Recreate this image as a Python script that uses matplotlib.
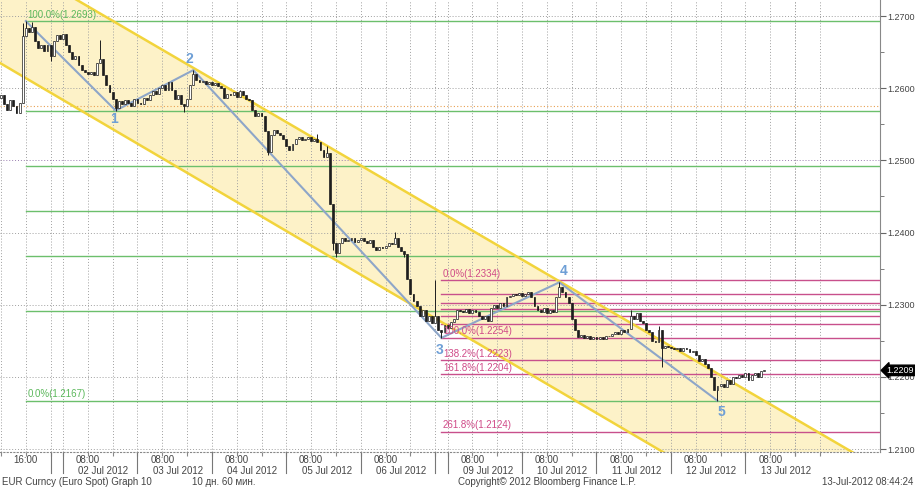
import numpy as np
import matplotlib
matplotlib.use('Agg')
import matplotlib.pyplot as plt
import matplotlib.transforms as mtransforms

plt.rcParams['font.family'] = ['Liberation Sans', 'DejaVu Sans']

# hourly closes, EUR/USD, 29 Jun 08:00 -> 13 Jul 08:00 (trading hours only)
first_open = 1.2586
closes = [
    1.2590, 1.2578, 1.2570, 1.2584, 1.2576, 1.2566, 1.2580, 1.2672,
    1.2683, 1.2678, 1.2685, 1.2665, 1.2655, 1.2660, 1.2652, 1.2660,
    1.2645, 1.2665, 1.2674, 1.2668, 1.2675, 1.2660, 1.2650, 1.2640,
    1.2645, 1.2632, 1.2625, 1.2622, 1.2620, 1.2623, 1.2618, 1.2635,
    1.2640, 1.2618, 1.2605, 1.2595, 1.2585, 1.2572, 1.2582, 1.2578,
    1.2584, 1.2580, 1.2576, 1.2585, 1.2580, 1.2578, 1.2586, 1.2583,
    1.2590, 1.2596, 1.2592, 1.2600, 1.2604, 1.2598, 1.2608, 1.2598,
    1.2585, 1.2590, 1.2578, 1.2575, 1.2585, 1.2605, 1.2620, 1.2612,
    1.2608, 1.2610, 1.2606, 1.2609, 1.2605, 1.2607, 1.2603, 1.2600,
    1.2586, 1.2592, 1.2590, 1.2595, 1.2588, 1.2596, 1.2590, 1.2585,
    1.2583, 1.2570, 1.2562, 1.2566, 1.2562, 1.2540, 1.2512, 1.2535,
    1.2542, 1.2538, 1.2535, 1.2530, 1.2520, 1.2515, 1.2522, 1.2530,
    1.2533, 1.2528, 1.2530, 1.2532, 1.2527, 1.2530, 1.2525, 1.2515,
    1.2505, 1.2510, 1.2440, 1.2385, 1.2372, 1.2385, 1.2392, 1.2388,
    1.2390, 1.2393, 1.2387, 1.2390, 1.2392, 1.2388, 1.2386, 1.2390,
    1.2380, 1.2376, 1.2380, 1.2378, 1.2382, 1.2385, 1.2384, 1.2392,
    1.2380, 1.2375, 1.2370, 1.2335, 1.2315, 1.2305, 1.2298, 1.2285,
    1.2292, 1.2278, 1.2284, 1.2275, 1.2285, 1.2265, 1.2262, 1.2272,
    1.2268, 1.2276, 1.2280, 1.2292, 1.2291, 1.2290, 1.2294, 1.2288,
    1.2293, 1.2290, 1.2285, 1.2280, 1.2285, 1.2278, 1.2295, 1.2300,
    1.2295, 1.2303, 1.2298, 1.2310, 1.2312, 1.2315, 1.2313, 1.2316,
    1.2312, 1.2315, 1.2318, 1.2310, 1.2298, 1.2292, 1.2290, 1.2295,
    1.2288, 1.2293, 1.2290, 1.2310, 1.2325, 1.2318, 1.2310, 1.2303,
    1.2280, 1.2265, 1.2255, 1.2258, 1.2254, 1.2256, 1.2253, 1.2255,
    1.2252, 1.2255, 1.2253, 1.2257, 1.2256, 1.2260, 1.2262, 1.2260,
    1.2265, 1.2262, 1.2266, 1.2285, 1.2280, 1.2288, 1.2277, 1.2275,
    1.2265, 1.2262, 1.2250, 1.2248, 1.2265, 1.2240, 1.2243, 1.2242,
    1.2240, 1.2238, 1.2240, 1.2236, 1.2240, 1.2238, 1.2234, 1.2236,
    1.2230, 1.2222, 1.2225, 1.2218, 1.2212, 1.2200, 1.2182, 1.2188,
    1.2190, 1.2186, 1.2195, 1.2190, 1.2200, 1.2198, 1.2203, 1.2200,
    1.2206, 1.2195, 1.2203, 1.2205, 1.2200, 1.2208, 1.2209,
]
# visible wick extremes
spike_highs = {7: 1.2690, 8: 1.2693, 10: 1.2692, 32: 1.2667, 62: 1.2625,
               77: 1.2597, 102: 1.2536, 105: 1.2520, 127: 1.2401, 140: 1.2334,
               180: 1.2331, 203: 1.2293, 212: 1.2270}
spike_lows = {16: 1.2638, 37: 1.2569, 59: 1.2567, 86: 1.2507, 107: 1.2376,
              108: 1.2366, 130: 1.2366, 142: 1.2254, 213: 1.2214, 231: 1.2167}

# elliott wave points
wave_idx = [8, 37, 62, 142, 180, 231]
wave_px = [1.2693, 1.2569, 1.2625, 1.2254, 1.2331, 1.2167]
wave_names = ['', '1', '2', '3', '4', '5']

# fibonacci retracement 1.2693 -> 1.2167
green_levels = [1.2693, 1.2569, 1.2492, 1.2430, 1.2368, 1.2291, 1.2167]
green_text = {1.2693: '100.0%(1.2693)', 1.2167: '0.0%(1.2167)'}
# fibonacci extension 1.2334 / 1.2254
pink_levels = [1.2334, 1.2315, 1.2303, 1.2294, 1.2285, 1.2273, 1.2254,
               1.2223, 1.2204, 1.2124]
pink_text = {1.2334: '0.0%(1.2334)', 1.2254: '100.0%(1.2254)',
             1.2223: '138.2%(1.2223)', 1.2204: '161.8%(1.2204)',
             1.2124: '261.8%(1.2124)'}

# trend channel (two points per line)
chan_upper = [(24.5, 1.27222), (274.4, 1.20959)]
chan_lower = [(-0.31, 1.26349), (213.4, 1.20959)]

# time axis (hour index)
day_starts = [20, 44, 68, 92, 116, 144, 168, 192, 216, 240]
day_names = ['02 Jul 2012', '03 Jul 2012', '04 Jul 2012', '05 Jul 2012', '06 Jul 2012',
             '09 Jul 2012', '10 Jul 2012', '11 Jul 2012', '12 Jul 2012', '13 Jul 2012']
separators = [16, 20, 44, 68, 92, 116, 140, 144, 168, 192, 216, 240]
last_price = 1.2209

xlim = (-0.31, 283.4)
ylim = (1.20959, 1.27222)

fig = plt.figure(figsize=(9.15, 4.88), dpi=100)
ax = fig.add_axes([0, 36 / 488, 880 / 915, 452 / 488])
ax.set_xlim(*xlim)
ax.set_ylim(*ylim)

# channel
def line_at(pts, xs):
    (x0, y0), (x1, y1) = pts
    return y0 + (y1 - y0) / (x1 - x0) * (np.asarray(xs) - x0)

xs = np.array([xlim[0] - 5, xlim[1] + 5])
ax.fill_between(xs, line_at(chan_lower, xs), line_at(chan_upper, xs),
                color='#fdf2c8', lw=0, zorder=0.5)
for pts in (chan_upper, chan_lower):
    ax.plot(xs, line_at(pts, xs), color='#f2d43c', lw=1.8, zorder=2.5)

# grid
dot = (0, (1, 2))
for lev in np.arange(1.21, 1.2701, 0.01):
    col = '#9a7fb0' if abs(lev - 1.25) < 1e-6 else '#a0a0a0'
    ax.axhline(lev, color=col, lw=0.7, ls=dot, zorder=1)
ax.axhline(1.2576, color='#e8a050', lw=0.8, ls=dot, zorder=1)
grid_x = [0, 8, 16]
for s in day_starts:
    grid_x += [s, s + 8, s + 16]
grid_x += [140, 256, 264]
for gx in grid_x:
    ax.axvline(gx, color='#a0a0a0', lw=0.7, ls=dot, zorder=1)

# fibonacci lines
for lev in green_levels:
    ax.plot([wave_idx[0], xlim[1]], [lev, lev], color='#6cbf6c', lw=1.0, zorder=2)
    if lev in green_text:
        ax.text(wave_idx[0] + 0.5, lev + 0.0002, green_text[lev], color='#5cb85c',
                fontsize=7, va='bottom', ha='left', zorder=5)
for lev in pink_levels:
    ax.plot([wave_idx[3], xlim[1]], [lev, lev], color='#c8508c', lw=1.0, zorder=2)
    if lev in pink_text:
        ax.text(wave_idx[3] + 0.5, lev + 0.0002, pink_text[lev], color='#d04a88',
                fontsize=7, va='bottom', ha='left', zorder=5)

# wave line
ax.plot(wave_idx, wave_px, color='#8ea6c8', lw=1.5, zorder=3)
label_off = {'1': (-1, -6), '2': (-3, 8), '3': (-1, -9), '4': (3, 8), '5': (3, -8)}
for i, name in enumerate(wave_names):
    if not name:
        continue
    ax.annotate(name, (wave_idx[i], wave_px[i]), xytext=label_off[name], textcoords='offset points',
                ha='center', va='center', color='#6e9fd6', fontsize=10, fontweight='bold',
                zorder=6)

# candles
closes = np.array(closes)
x = np.arange(len(closes))
opens = np.r_[first_open, closes[:-1]]
highs = np.maximum(opens, closes)
lows = np.minimum(opens, closes)
for k, v in spike_highs.items():
    highs[k] = max(highs[k], v)
for k, v in spike_lows.items():
    lows[k] = min(lows[k], v)
up = closes >= opens
ax.vlines(x, lows, highs, color='#1e1e1e', lw=0.7, zorder=4)
ax.bar(x, np.maximum(np.abs(closes - opens), 0.00008), bottom=np.minimum(opens, closes),
       width=0.6, color=np.where(up, '#ffffff', '#1e1e1e'), edgecolor='#1e1e1e',
       lw=0.5, zorder=4.5)

# right price axis
ticks = np.arange(1.21, 1.2701, 0.01)
ax.yaxis.tick_right()
ax.set_yticks(ticks)
ax.set_yticklabels(['%.4f' % v for v in ticks])
ax.set_yticks(np.arange(1.215, 1.2701, 0.01), minor=True)
ax.tick_params(axis='y', which='major', direction='out', length=4, color='#666',
               labelsize=6.5, labelcolor='#444', pad=1)
ax.tick_params(axis='y', which='minor', direction='out', length=3, color='#666')
ax.set_xticks(grid_x)
ax.set_xticklabels([])
ax.tick_params(axis='x', which='major', direction='out', length=3, color='#888')
for side in ('top', 'left'):
    ax.spines[side].set_visible(False)
ax.spines['right'].set_color('#888')
ax.spines['right'].set_linewidth(0.8)
ax.spines['bottom'].set_color('#888')
ax.spines['bottom'].set_linestyle(dot)
ax.spines['bottom'].set_linewidth(0.8)

ax.text(1.0075, last_price, '%.4f' % last_price,
        transform=mtransforms.blended_transform_factory(ax.transAxes, ax.transData),
        color='white', fontsize=6.5, va='center', ha='left', zorder=10,
        bbox=dict(boxstyle='larrow,pad=0.08', fc='black', ec='black'), clip_on=False)

# time labels
trans = mtransforms.blended_transform_factory(ax.transData, ax.transAxes)
for sx in separators:
    ax.plot([sx, sx], [0, -0.047], transform=trans, color='#777', lw=0.8, clip_on=False)
ax.text(8, -0.017, '16:00', transform=trans, ha='center', va='center', fontsize=7, color='#444')
for s, name in zip(day_starts, day_names):
    ax.text(s + 8, -0.017, '08:00', transform=trans, ha='center', va='center', fontsize=7, color='#444')
    ax.text(s + 13, -0.043, name, transform=trans, ha='center', va='center', fontsize=7, color='#444')

fy = 6 / 488
fig.text(2 / 915, fy, 'EUR Curncy (Euro Spot) Graph 10', fontsize=7, color='#444', va='center')
fig.text(192 / 915, fy, '10 дн. 60 мин.', fontsize=7, color='#444', va='center')
fig.text(458 / 915, fy, 'Copyright© 2012 Bloomberg Finance L.P.', fontsize=7, color='#444', va='center')
fig.text(913 / 915, fy, '13-Jul-2012 08:44:24', fontsize=7, color='#444', va='center', ha='right')

fig.savefig('out.png', dpi=100)
